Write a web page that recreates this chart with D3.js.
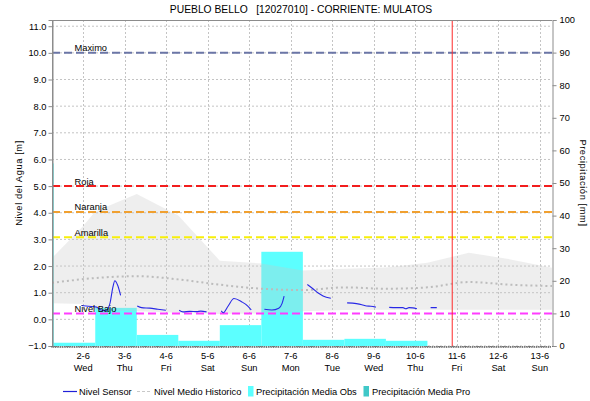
<!DOCTYPE html>
<html><head><meta charset="utf-8">
<script src="https://cdn.jsdelivr.net/npm/d3@7"></script>
<style>
body{margin:0;background:#fff;}
svg text{font-family:"Liberation Sans",Arial,sans-serif;fill:#000;}
</style></head><body>
<svg id="chart" width="590" height="401"></svg>
<script>
// ---------------- DATA ----------------
const chartTitle = "PUEBLO BELLO\u00a0\u00a0\u00a0[12027010] - CORRIENTE: MULATOS";
const leftLabel = "Nivel del Agua [m]";
const rightLabel = "Precipitación [mm]";

const precipDays = ["2021-05-31 07:00","2021-06-01 07:00","2021-06-02 07:00","2021-06-03 07:00","2021-06-04 07:00",
                    "2021-06-05 07:00","2021-06-06 07:00","2021-06-07 07:00","2021-06-08 07:00","2021-06-09 07:00"];
const precipObs = [56, 1.0, 11.7, 3.4, 1.6, 6.4, 28.9, 1.9, 2.2, 1.6];

const bandDates = ["2021-06-01 06:00","2021-06-02 00:00","2021-06-02 07:00","2021-06-03 07:00","2021-06-04 07:00","2021-06-05 07:00",
                   "2021-06-06 07:00","2021-06-07 07:00","2021-06-08 07:00","2021-06-09 07:00","2021-06-10 07:00",
                   "2021-06-11 07:00","2021-06-12 07:00","2021-06-13 07:00"];
const bandMax = [2.3, 3.5, 4.05, 4.7, 3.9, 2.2, 2.1, 1.83, 1.9, 1.95, 2.12, 2.5, 2.25, 1.94];
const bandMin = [0.6, 0.58, 0.35, 0.3, 0.25, 0.2, 0.22, 0.3, 0.35, 0.36, 0.36, 0.36, 0.36, 0.36];

const meanDates = ["2021-06-01 06:00","2021-06-02 07:00","2021-06-03 07:00","2021-06-04 07:00","2021-06-05 07:00",
                   "2021-06-06 07:00","2021-06-07 07:00","2021-06-08 07:00","2021-06-09 07:00","2021-06-10 07:00",
                   "2021-06-11 07:00","2021-06-12 07:00","2021-06-13 07:00"];
const meanHist = [1.37, 1.55, 1.62, 1.5, 1.3, 1.15, 1.1, 1.2, 1.15, 1.2, 1.4, 1.3, 1.25];

const sensorTimes = [
 "2021-06-01 23:00","2021-06-02 03:00","2021-06-02 07:45","2021-06-02 10:00","2021-06-02 13:00","2021-06-02 15:30",
 "2021-06-02 17:10","2021-06-02 18:20","2021-06-02 19:50","2021-06-02 21:40","2021-06-03 03:00",
 "2021-06-03 07:15","2021-06-03 09:45","2021-06-03 14:30","2021-06-03 19:10","2021-06-03 23:50","2021-06-04 03:00",
 "2021-06-04 07:30","2021-06-04 09:40","2021-06-04 13:40","2021-06-04 17:40","2021-06-04 20:00","2021-06-04 23:20","2021-06-05 03:00",
 "2021-06-05 07:50","2021-06-05 09:00","2021-06-05 11:50","2021-06-05 15:10","2021-06-05 19:35","2021-06-05 23:10","2021-06-06 01:10","2021-06-06 04:00",
 "2021-06-06 08:45","2021-06-06 13:05","2021-06-06 17:05","2021-06-06 19:00","2021-06-06 20:10","2021-06-07 03:00",
 "2021-06-07 09:35","2021-06-07 12:50","2021-06-07 15:40","2021-06-07 18:40","2021-06-07 23:10","2021-06-08 03:00",
 "2021-06-08 08:35","2021-06-08 14:00","2021-06-08 17:05","2021-06-08 19:50","2021-06-08 22:20","2021-06-09 01:10","2021-06-09 04:00",
 "2021-06-09 08:55","2021-06-09 12:45","2021-06-09 16:50","2021-06-09 18:30","2021-06-09 20:20","2021-06-09 22:35","2021-06-10 00:55","2021-06-10 04:00",
 "2021-06-10 08:50","2021-06-10 12:25"];
const sensorLevel = [
 0.52,0.49,0.46,0.36,0.32,0.6,1.2,1.45,1.3,0.9,null,
 0.5,0.44,0.42,0.38,0.34,null,
 0.34,0.28,0.3,0.29,0.31,0.28,null,
 0.32,0.25,0.5,0.78,0.66,0.5,0.35,null,
 0.38,0.35,0.42,0.6,0.87,null,
 1.31,1.15,1.0,0.88,0.79,null,
 0.62,0.59,0.55,0.5,0.49,0.46,null,
 0.45,0.44,0.44,0.4,0.44,0.43,0.4,null,
 0.44,0.44];

const thresholdNames  = ["Maximo","Roja","Naranja","Amarilla","Nivel Bajo"];
const thresholdValues = [10.0, 5.0, 4.03, 3.08, 0.22];
const thresholdColors = ["#6b76a6","#f21d1d","#f0a030","#f7ef0a","#ff3cff"];

const nowTime = "2021-06-10 21:20";
const xStart = "2021-06-01 06:00", xEnd = "2021-06-13 07:00";
const leftTicks = [-1,0,1,2,3,4,5,6,7,8,9,10,11];
const rightTicks = [0,10,20,30,40,50,60,70,80,90,100];
const legendItems = ["Nivel Sensor","Nivel Medio Historico","Precipitación Media Obs","Precipitación Media Pro"];

// ---------------- CHART ----------------
const parse = d3.timeParse("%Y-%m-%d %H:%M");
const svg = d3.select("#chart");
const L = 52, R = 552, T = 20, B = 346;

const x = d3.scaleTime().domain([parse(xStart), parse(xEnd)]).range([L, R]);
const yL = d3.scaleLinear().domain([-1, 11.233]).range([B, T]);
const yR = d3.scaleLinear().domain([0, 100]).range([B, T]);

svg.append("defs").append("clipPath").attr("id","plotclip")
  .append("rect").attr("x", L).attr("y", T).attr("width", R - L).attr("height", B - T);

const dayTicks = d3.timeDay.range(d3.timeDay.ceil(parse(xStart)), parse(xEnd));

// grid
const grid = svg.append("g");
grid.selectAll(".hg").data(leftTicks).join("line")
  .attr("x1", L).attr("x2", R).attr("y1", d => yL(d)).attr("y2", d => yL(d))
  .attr("stroke", "#c4c4c4").attr("stroke-dasharray", "2,2").attr("stroke-width", 1);
grid.selectAll(".vg").data(dayTicks).join("line")
  .attr("x1", d => Math.round(x(d)) + 0.5).attr("x2", d => Math.round(x(d)) + 0.5).attr("y1", T).attr("y2", B)
  .attr("stroke", "#c4c4c4").attr("stroke-dasharray", "2,2").attr("stroke-width", 1);

const plot = svg.append("g").attr("clip-path", "url(#plotclip)");

// precipitation bars
plot.selectAll(".bar").data(precipDays.map((d, i) => ({t: parse(d), v: precipObs[i]}))).join("rect")
  .attr("x", d => x(d.t))
  .attr("width", d => x(d3.timeDay.offset(d.t, 1)) - x(d.t))
  .attr("y", d => yR(d.v))
  .attr("height", d => yR(0) - yR(d.v))
  .attr("fill", "#5cffff");

// historical band
const band = bandDates.map((d, i) => ({t: parse(d), hi: bandMax[i], lo: bandMin[i]}));
plot.append("path").datum(band)
  .attr("d", d3.area().x(d => x(d.t)).y0(d => yL(d.lo)).y1(d => yL(d.hi)))
  .attr("fill", "#c6c6c6").attr("fill-opacity", 0.3);

// mean historical line
const mean = meanDates.map((d, i) => ({t: parse(d), v: meanHist[i]}));
plot.append("path").datum(mean)
  .attr("d", d3.line().x(d => x(d.t)).y(d => yL(d.v)).curve(d3.curveMonotoneX))
  .attr("fill", "none").attr("stroke", "#bcbcbc").attr("stroke-width", 2).attr("stroke-dasharray", "2,3");

// thresholds
thresholdValues.forEach((v, i) => {
  plot.append("line").attr("x1", L).attr("x2", R).attr("y1", yL(v)).attr("y2", yL(v))
    .attr("stroke", thresholdColors[i]).attr("stroke-width", 2).attr("stroke-dasharray", "8,4");
  svg.append("text").attr("x", 74.5).attr("y", yL(v) - 1.5)
    .attr("font-size", "9.3px").text(thresholdNames[i]);
});

// sensor line
const sensor = sensorTimes.map((d, i) => ({t: parse(d), v: sensorLevel[i]}));
plot.append("path").datum(sensor)
  .attr("d", d3.line().defined(d => d.v !== null).x(d => x(d.t)).y(d => yL(d.v)).curve(d3.curveMonotoneX))
  .attr("fill", "none").attr("stroke", "#2828e6").attr("stroke-width", 1.1);

// now line
plot.append("line").attr("x1", x(parse(nowTime))).attr("x2", x(parse(nowTime))).attr("y1", T).attr("y2", B)
  .attr("stroke", "#ff2a2a").attr("stroke-width", 1);

// frame
svg.append("line").attr("x1", L).attr("x2", R).attr("y1", T + 0.5).attr("y2", T + 0.5).attr("stroke", "#8c8c8c");
svg.append("line").attr("x1", L + 0.5).attr("x2", L + 0.5).attr("y1", T).attr("y2", B).attr("stroke", "#8c8c8c");

// left axis
const axL = svg.append("g").attr("transform", `translate(${L + 0.5},0)`)
  .call(d3.axisLeft(yL).tickValues(leftTicks).tickFormat(d3.format(".1f")).tickSize(4).tickPadding(2));
axL.select(".domain").attr("stroke", "#8c8c8c");
axL.selectAll(".tick line").attr("stroke", "#8c8c8c");
axL.selectAll("text").attr("font-size", "9.3px").attr("font-family", "Liberation Sans, Arial, sans-serif");

// right axis
const axR = svg.append("g").attr("transform", `translate(${R + 0.5},0)`)
  .call(d3.axisRight(yR).tickValues(rightTicks).tickSize(4).tickPadding(3));
axR.select(".domain").attr("stroke", "#8c8c8c");
axR.selectAll(".tick line").attr("stroke", "#8c8c8c");
axR.selectAll("text").attr("font-size", "9.3px").attr("font-family", "Liberation Sans, Arial, sans-serif");

// bottom axis: hourly minor ticks + day labels
const hours = d3.timeHour.range(parse(xStart), parse(xEnd));
svg.append("g").selectAll("line").data(hours).join("line")
  .attr("x1", d => x(d)).attr("x2", d => x(d)).attr("y1", B).attr("y2", B + 2)
  .attr("stroke", "#555").attr("stroke-width", 0.8);
svg.append("line").attr("x1", L).attr("x2", R + 1).attr("y1", B + 0.5).attr("y2", B + 0.5)
  .attr("stroke", "#777").attr("stroke-dasharray", "1,1");
const fmtDay = d3.timeFormat("%-d-%-m"), fmtWk = d3.timeFormat("%a");
const xl = svg.append("g");
xl.selectAll(".d1").data(dayTicks).join("text")
  .attr("x", d => x(d)).attr("y", 358.5).attr("text-anchor", "middle").attr("font-size", "9.3px").text(d => fmtDay(d));
xl.selectAll(".d2").data(dayTicks).join("text")
  .attr("x", d => x(d)).attr("y", 370.5).attr("text-anchor", "middle").attr("font-size", "9.3px").text(d => fmtWk(d));

// title & axis labels
svg.append("text").attr("x", 301).attr("y", 13).attr("text-anchor", "middle").attr("font-size", "10.3px").text(chartTitle);
svg.append("text").attr("transform", "translate(22,183) rotate(-90)").attr("text-anchor", "middle")
  .attr("font-size", "9.3px").attr("letter-spacing", "0.6px").text(leftLabel);
svg.append("text").attr("transform", "translate(580,183) rotate(90)").attr("text-anchor", "middle")
  .attr("font-size", "9.3px").attr("letter-spacing", "0.6px").text(rightLabel);

// legend
const lg = svg.append("g");
lg.append("line").attr("x1", 63).attr("x2", 77).attr("y1", 391.5).attr("y2", 391.5).attr("stroke", "#2020d8").attr("stroke-width", 1.2);
lg.append("text").attr("x", 79).attr("y", 394.5).attr("font-size", "9.3px").text(legendItems[0]);
lg.append("line").attr("x1", 137).attr("x2", 151).attr("y1", 391.5).attr("y2", 391.5).attr("stroke", "#c8c8c8").attr("stroke-width", 1.2).attr("stroke-dasharray", "3,2");
lg.append("text").attr("x", 154).attr("y", 394.5).attr("font-size", "9.3px").text(legendItems[1]);
lg.append("rect").attr("x", 248).attr("y", 386).attr("width", 5.5).attr("height", 10.5).attr("fill", "#5cffff");
lg.append("text").attr("x", 256).attr("y", 394.5).attr("font-size", "9.3px").text(legendItems[2]);
lg.append("rect").attr("x", 363.5).attr("y", 386).attr("width", 5.5).attr("height", 10.5).attr("fill", "#40c8c8");
lg.append("text").attr("x", 372).attr("y", 394.5).attr("font-size", "9.3px").text(legendItems[3]);
</script>
</body></html>
